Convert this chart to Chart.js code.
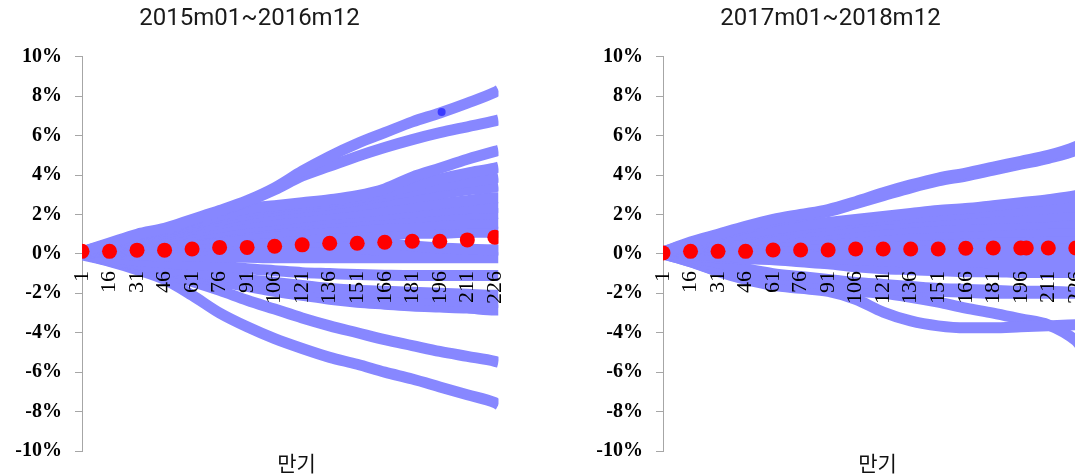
<!DOCTYPE html>
<html>
<head>
<meta charset="utf-8">
<script src="https://cdn.jsdelivr.net/npm/chart.js@4"></script>
<style>
  html, body { margin: 0; padding: 0; background: #fff; width: 1075px; height: 474px; overflow: hidden; }
  .panel { position: absolute; top: 0; width: 506px; height: 474px; }
  #p1 { left: 0; }
  #p2 { left: 581px; }
</style>
</head>
<body>
<div class="panel" id="p1"><canvas id="c1" width="506" height="474"></canvas></div>
<div class="panel" id="p2"><canvas id="c2" width="506" height="474"></canvas></div>
<script>
// Maturity (months) at which each path is sampled
const sampleMonths = [1, 16, 31, 46, 61, 76, 91, 106, 121, 136, 151, 166, 181, 196, 211, 226, 228];
// Labelled maturities on the horizontal axis
const tickMonths = [1, 16, 31, 46, 61, 76, 91, 106, 121, 136, 151, 166, 181, 196, 211, 226];
// Vertical axis ticks, in percent
const yTickValues = [-10, -8, -6, -4, -2, 0, 2, 4, 6, 8, 10];
const xCaption = '만기';

// ---- 2015m01~2016m12 ----
const leftTitle = '2015m01~2016m12';
const leftPaths = [
  [0.1, 0.55, 1.0, 1.3, 1.75, 2.2, 2.7, 3.35, 4.2, 4.95, 5.6, 6.15, 6.7, 7.15, 7.65, 8.2, 8.3],
  [0.1, 0.5, 0.95, 1.25, 1.7, 2.15, 2.65, 3.25, 3.95, 4.45, 4.95, 5.4, 5.8, 6.15, 6.45, 6.75, 6.8],
  [0.1, 0.5, 0.9, 1.2, 1.6, 1.95, 2.3, 2.45, 2.6, 2.75, 2.95, 3.3, 3.9, 4.35, 4.8, 5.2, 5.25],
  [0.1, 0.45, 0.85, 1.15, 1.5, 1.85, 2.15, 2.35, 2.5, 2.65, 2.85, 3.1, 3.45, 3.8, 4.1, 4.35, 4.4],
  [0.05, 0.4, 0.8, 1.05, 1.4, 1.7, 2.0, 2.2, 2.35, 2.5, 2.7, 2.95, 3.2, 3.45, 3.65, 3.85, 3.9],
  [0.05, 0.35, 0.7, 0.95, 1.25, 1.55, 1.8, 2.0, 2.15, 2.3, 2.45, 2.65, 2.85, 3.05, 3.25, 3.4, 3.45],
  [0.05, 0.3, 0.6, 0.85, 1.1, 1.35, 1.55, 1.7, 1.85, 2.0, 2.1, 2.25, 2.4, 2.55, 2.7, 2.85, 2.85],
  [0.05, 0.3, 0.55, 0.75, 0.95, 1.15, 1.35, 1.5, 1.65, 1.8, 1.9, 2.0, 2.1, 2.2, 2.3, 2.35, 2.35],
  [0.05, 0.25, 0.5, 0.7, 0.9, 1.1, 1.25, 1.4, 1.5, 1.6, 1.7, 1.8, 1.85, 1.95, 2.0, 2.05, 2.05],
  [0.05, 0.2, 0.4, 0.55, 0.7, 0.85, 1.0, 1.1, 1.2, 1.3, 1.35, 1.4, 1.45, 1.5, 1.55, 1.55, 1.55],
  [0.05, 0.15, 0.3, 0.4, 0.5, 0.6, 0.7, 0.8, 0.85, 0.9, 0.95, 1.0, 1.05, 1.05, 1.1, 1.1, 1.1],
  [0.05, 0.12, 0.22, 0.3, 0.38, 0.45, 0.5, 0.55, 0.58, 0.6, 0.6, 0.55, 0.4, 0.3, 0.25, 0.2, 0.2],
  [0.05, 0.1, 0.15, 0.2, 0.2, 0.25, 0.25, 0.25, 0.25, 0.25, 0.25, 0.2, 0.2, 0.2, 0.2, 0.2, 0.2],
  [0.0, 0.0, -0.05, -0.1, -0.12, -0.15, -0.17, -0.2, -0.2, -0.2, -0.2, -0.2, -0.2, -0.2, -0.2, -0.2, -0.2],
  [0.0, -0.2, -0.35, -0.45, -0.55, -0.62, -0.75, -0.85, -0.95, -1.0, -1.05, -1.08, -1.1, -1.1, -1.1, -1.1, -1.1],
  [0.0, -0.25, -0.5, -0.7, -0.9, -1.1, -1.3, -1.45, -1.6, -1.75, -1.85, -1.9, -1.95, -2.0, -2.05, -2.1, -2.1],
  [0.0, -0.28, -0.55, -0.8, -1.0, -1.25, -1.45, -1.65, -1.85, -2.0, -2.1, -2.2, -2.3, -2.35, -2.4, -2.45, -2.45],
  [0.0, -0.3, -0.6, -0.85, -1.1, -1.4, -1.65, -1.9, -2.1, -2.3, -2.45, -2.55, -2.65, -2.7, -2.75, -2.85, -2.85],
  [0.0, -0.35, -0.7, -1.0, -1.4, -1.85, -2.35, -2.8, -3.25, -3.65, -4.0, -4.35, -4.65, -4.95, -5.2, -5.45, -5.5],
  [-0.05, -0.38, -0.8, -1.3, -2.1, -3.0, -3.7, -4.3, -4.8, -5.25, -5.6, -6.0, -6.35, -6.75, -7.15, -7.55, -7.65]
];
const leftMeanMonths = [1, 16, 31, 46, 61, 76, 91, 106, 121, 136, 151, 166, 181, 196, 211, 226];
const leftMeanValues = [0.13, 0.13, 0.19, 0.19, 0.25, 0.33, 0.33, 0.39, 0.46, 0.54, 0.54, 0.59, 0.64, 0.64, 0.71, 0.85];
const leftMarkMonths = [197];
const leftMarkValues = [7.2];

// ---- 2017m01~2018m12 ----
const rightTitle = '2017m01~2018m12';
const rightPaths = [
  [0.1, 0.6, 1.0, 1.4, 1.75, 2.0, 2.25, 2.65, 3.1, 3.5, 3.85, 4.1, 4.4, 4.7, 5.0, 5.45, 5.55],
  [0.1, 0.55, 0.95, 1.3, 1.65, 1.9, 2.15, 2.55, 2.95, 3.35, 3.7, 3.95, 4.25, 4.55, 4.85, 5.25, 5.35],
  [0.05, 0.45, 0.8, 1.05, 1.25, 1.45, 1.6, 1.75, 1.9, 2.05, 2.2, 2.3, 2.45, 2.6, 2.75, 2.95, 3.0],
  [0.05, 0.4, 0.7, 0.95, 1.15, 1.3, 1.45, 1.6, 1.75, 1.85, 1.95, 2.05, 2.15, 2.2, 2.3, 2.4, 2.4],
  [0.05, 0.35, 0.6, 0.8, 0.95, 1.1, 1.2, 1.35, 1.5, 1.6, 1.7, 1.75, 1.8, 1.85, 1.9, 2.0, 2.0],
  [0.05, 0.3, 0.5, 0.65, 0.8, 0.9, 1.0, 1.1, 1.2, 1.3, 1.35, 1.4, 1.45, 1.5, 1.55, 1.55, 1.55],
  [0.05, 0.25, 0.4, 0.5, 0.6, 0.7, 0.8, 0.85, 0.9, 0.95, 1.0, 1.05, 1.1, 1.1, 1.15, 1.15, 1.15],
  [0.05, 0.2, 0.3, 0.35, 0.45, 0.5, 0.55, 0.6, 0.65, 0.7, 0.72, 0.75, 0.78, 0.8, 0.8, 0.8, 0.8],
  [0.05, 0.15, 0.2, 0.25, 0.3, 0.35, 0.4, 0.4, 0.45, 0.45, 0.45, 0.45, 0.45, 0.45, 0.45, 0.45, 0.45],
  [0.0, 0.05, 0.05, 0.05, 0.05, 0.05, 0.05, 0.0, 0.0, 0.0, 0.0, 0.0, 0.0, 0.0, 0.0, 0.0, 0.0],
  [0.0, -0.05, -0.1, -0.15, -0.15, -0.2, -0.25, -0.3, -0.35, -0.4, -0.4, -0.4, -0.45, -0.45, -0.45, -0.45, -0.45],
  [0.0, -0.1, -0.2, -0.25, -0.3, -0.4, -0.5, -0.65, -0.75, -0.8, -0.85, -0.9, -0.9, -0.95, -0.95, -0.95, -0.95],
  [0.0, -0.2, -0.45, -0.75, -1.0, -1.15, -1.3, -1.45, -1.55, -1.65, -1.75, -1.8, -1.85, -1.9, -1.9, -1.95, -1.95],
  [0.0, -0.3, -0.65, -0.95, -1.2, -1.4, -1.55, -1.7, -1.8, -1.85, -1.9, -1.95, -2.0, -2.0, -2.0, -2.0, -2.0],
  [0.0, -0.4, -0.9, -1.3, -1.6, -1.75, -1.9, -2.3, -2.95, -3.4, -3.65, -3.75, -3.75, -3.7, -3.65, -3.6, -3.6],
  [0.0, -0.4, -0.85, -1.25, -1.55, -1.7, -1.8, -1.9, -2.0, -2.2, -2.45, -2.75, -3.0, -3.3, -3.6, -4.4, -4.6]
];
const rightMeanMonths = [1, 16, 31, 46, 61, 76, 91, 106, 121, 136, 151, 166, 181, 196, 199, 211, 226];
const rightMeanValues = [0.05, 0.13, 0.13, 0.13, 0.2, 0.2, 0.2, 0.25, 0.25, 0.25, 0.25, 0.29, 0.3, 0.3, 0.3, 0.3, 0.3];
const rightMarkMonths = [];
const rightMarkValues = [];

const PATH_BLUE = '#8787ff';
const MEAN_RED = '#ff0000';
const MARK_BLUE = '#3b3bff';

// Caption under the plot area
const axisCaption = {
  id: 'axisCaption',
  afterDraw(chart, args, opts) {
    const { ctx, chartArea } = chart;
    ctx.save();
    ctx.font = '21px "Noto Sans CJK KR"';
    ctx.fillStyle = '#111';
    ctx.textAlign = 'center';
    ctx.textBaseline = 'middle';
    ctx.fillText(opts.text, chartArea.left + chartArea.width * 0.515, chart.height - 11);
    ctx.restore();
  }
};

function toPoints(xs, ys) {
  return xs.map((x, i) => ({ x: x, y: ys[i] }));
}

function makeChart(canvasId, title, paths, meanMonths, meanValues, markMonths, markValues) {
  const datasets = [{
    data: toPoints(meanMonths, meanValues),
    showLine: false,
    pointRadius: 7.5,
    pointBackgroundColor: MEAN_RED,
    pointBorderWidth: 0,
    order: 0
  }];
  if (markMonths.length) {
    datasets.push({
      data: toPoints(markMonths, markValues),
      showLine: false,
      pointRadius: 4,
      pointBackgroundColor: MARK_BLUE,
      pointBorderWidth: 0,
      order: 1
    });
  }
  paths.forEach(p => {
    datasets.push({
      data: toPoints(sampleMonths, p),
      borderColor: PATH_BLUE,
      borderWidth: 11,
      pointRadius: 0,
      fill: false,
      cubicInterpolationMode: 'monotone',
      borderCapStyle: 'butt',
      borderJoinStyle: 'round',
      order: 2
    });
  });

  return new Chart(document.getElementById(canvasId), {
    type: 'line',
    data: { datasets },
    plugins: [axisCaption],
    options: {
      responsive: false,
      animation: false,
      devicePixelRatio: 1,
      layout: { padding: { left: 0, right: 7, top: 0, bottom: 23 } },
      plugins: {
        legend: { display: false },
        tooltip: { enabled: false },
        title: {
          display: true,
          text: title,
          color: '#1a1a1a',
          font: { family: 'Roboto', size: 24, weight: 'normal' },
          padding: { top: 5, bottom: 23 }
        },
        axisCaption: { text: xCaption }
      },
      scales: {
        x: {
          type: 'linear',
          min: 1,
          max: 228,
          position: { y: 0 },
          afterBuildTicks: ax => { ax.ticks = tickMonths.map(v => ({ value: v })); },
          afterFit: s => { s.paddingLeft = 0; s.paddingRight = 0; },
          ticks: {
            z: 1,
            autoSkip: false,
            minRotation: 90,
            maxRotation: 90,
            padding: 9,
            color: '#000',
            font: { family: 'Liberation Serif', size: 22 },
            callback: v => String(v)
          },
          grid: { display: true, drawOnChartArea: false, drawTicks: true, tickLength: 8, color: 'rgba(0,0,0,0)' },
          border: { display: false }
        },
        y: {
          min: -10,
          max: 10,
          afterBuildTicks: ax => { ax.ticks = yTickValues.map(v => ({ value: v })); },
          afterFit: s => { s.width = 82; s.paddingTop = 0; s.paddingBottom = 0; },
          ticks: {
            padding: 13,
            color: '#000',
            font: { family: 'Liberation Serif', size: 20, weight: 'bold' },
            callback: v => v + '%'
          },
          grid: { drawOnChartArea: false, drawTicks: true, tickLength: 7, color: '#a6a6a6' },
          border: { display: true, color: '#a6a6a6', width: 1 }
        }
      }
    }
  });
}

makeChart('c1', leftTitle, leftPaths, leftMeanMonths, leftMeanValues, leftMarkMonths, leftMarkValues);
makeChart('c2', rightTitle, rightPaths, rightMeanMonths, rightMeanValues, rightMarkMonths, rightMarkValues);
</script>
</body>
</html>
